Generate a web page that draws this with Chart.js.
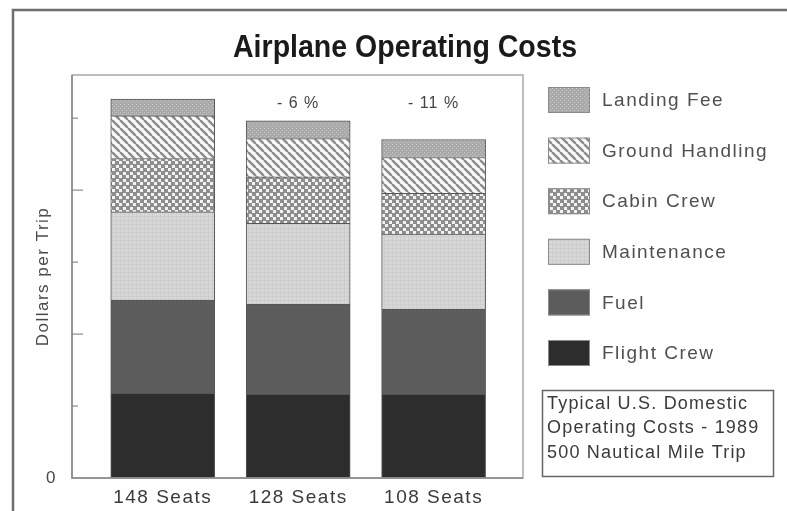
<!DOCTYPE html>
<html>
<head>
<meta charset="utf-8">
<script src="https://cdn.jsdelivr.net/npm/chart.js@4/dist/chart.umd.min.js"></script>
<style>
    html, body { margin: 0; padding: 0; background: #fefefe; }
    #costChart { display: block; }
</style>
</head>
<body>
<canvas id="costChart" width="787" height="511"></canvas>
<script>
// Airplane operating costs, dollars per trip
const seatLabels = ['148 Seats', '128 Seats', '108 Seats'];
const flightCrew = [1176, 1163, 1163];
const fuel = [1296, 1254, 1180];
const maintenance = [1227, 1121, 1046];
const cabinCrew = [741, 647, 565];
const groundHandling = [592, 533, 500];
const landingFee = [232, 245, 250];
const changeLabels = ['', '- 6 %', '- 11 %'];
const yTickValues = [1000, 2000, 3000, 4000, 5000];
const noteLines = ['Typical U.S. Domestic', 'Operating Costs - 1989', '500 Nautical Mile Trip'];

const FONT = '"Liberation Sans", Arial, Helvetica, sans-serif';

// Small tiles used as fills, to look like the old print textures
function makePattern(size, paint) {
    const c = document.createElement('canvas');
    c.width = size;
    c.height = size;
    paint(c.getContext('2d'), size);
    return document.getElementById('costChart').getContext('2d').createPattern(c, 'repeat');
}

const landingFill = makePattern(4, (g, s) => {
    g.fillStyle = '#aaaaaa';
    g.fillRect(0, 0, s, s);
    g.fillStyle = '#c6c6c6';
    g.fillRect(0, 0, 1, 1);
    g.fillRect(2, 2, 1, 1);
});

const groundFill = makePattern(8, (g, s) => {
    g.fillStyle = '#fafafa';
    g.fillRect(0, 0, s, s);
    g.strokeStyle = '#8c8c8c';
    g.lineWidth = 2.4;
    [-s, 0, s].forEach(k => {
        g.beginPath();
        g.moveTo(k, 0);
        g.lineTo(k + s, s);
        g.stroke();
    });
});

const cabinFill = makePattern(7, (g, s) => {
    g.fillStyle = '#8e8e8e';
    g.fillRect(0, 0, s, s);
    g.fillStyle = '#f2f2f2';
    g.fillRect(0, 0, 3, 3);
    g.fillRect(4, 4, 3, 3);
});

const maintenanceFill = makePattern(4, (g, s) => {
    g.fillStyle = '#d8d8d8';
    g.fillRect(0, 0, s, s);
    g.fillStyle = '#cdcdcd';
    g.fillRect(0, 0, s, 1);
    g.fillRect(0, 0, 1, s);
});

function series(values) {
    return values.map((v, i) => ({ x: i + 1, y: v }));
}

const datasets = [
    { label: 'Flight Crew', data: series(flightCrew), backgroundColor: '#2d2d2d' },
    { label: 'Fuel', data: series(fuel), backgroundColor: '#5c5c5c' },
    { label: 'Maintenance', data: series(maintenance), backgroundColor: maintenanceFill },
    { label: 'Cabin Crew', data: series(cabinCrew), backgroundColor: cabinFill },
    { label: 'Ground Handling', data: series(groundHandling), backgroundColor: groundFill },
    { label: 'Landing Fee', data: series(landingFee), backgroundColor: landingFill }
];
datasets.forEach(ds => {
    ds.borderColor = '#555555';
    ds.borderWidth = 1;
    ds.barThickness = 104;
});

// Everything around the bars: frame, title, box, ticks, legend, note
const decor = {
    id: 'decor',
    beforeDraw(chart) {
        const ctx = chart.ctx;
        ctx.save();
        ctx.fillStyle = '#fefefe';
        ctx.fillRect(0, 0, chart.width, chart.height);
        ctx.restore();
        ctx.letterSpacing = '1.5px';
    },
    afterDraw(chart) {
        const ctx = chart.ctx;
        const area = chart.chartArea;
        const yScale = chart.scales.y;

        ctx.save();

        // outer frame (top and left edges only are visible)
        ctx.strokeStyle = '#6e6e6e';
        ctx.lineWidth = 2.5;
        ctx.beginPath();
        ctx.moveTo(13, chart.height);
        ctx.lineTo(13, 10);
        ctx.lineTo(chart.width, 10);
        ctx.stroke();

        // plot box, axis sides a little darker
        ctx.strokeStyle = '#a8a8a8';
        ctx.lineWidth = 1.5;
        ctx.strokeRect(area.left, area.top, area.right - area.left, area.bottom - area.top);
        ctx.strokeStyle = '#888888';
        ctx.beginPath();
        ctx.moveTo(area.left, area.top);
        ctx.lineTo(area.left, area.bottom);
        ctx.lineTo(area.right, area.bottom);
        ctx.stroke();

        // inward tick marks on the value axis
        ctx.strokeStyle = '#8a8a8a';
        ctx.lineWidth = 1.2;
        yTickValues.forEach(v => {
            const py = yScale.getPixelForValue(v);
            const len = v % 2000 === 0 ? 11 : 6;
            ctx.beginPath();
            ctx.moveTo(area.left, py);
            ctx.lineTo(area.left + len, py);
            ctx.stroke();
        });

        // title, tall and condensed
        ctx.letterSpacing = '0px';
        ctx.font = 'bold 32px ' + FONT;
        ctx.fillStyle = '#1a1a1a';
        ctx.textAlign = 'center';
        ctx.textBaseline = 'alphabetic';
        const tw = ctx.measureText('Airplane Operating Costs').width;
        ctx.save();
        ctx.translate(405, 57);
        ctx.scale(344 / tw, 1);
        ctx.fillText('Airplane Operating Costs', 0, 0);
        ctx.restore();

        // change labels above the smaller airplanes
        ctx.letterSpacing = '1px';
        ctx.font = '16px ' + FONT;
        ctx.fillStyle = '#444444';
        ctx.textBaseline = 'middle';
        const bars = chart.getDatasetMeta(0).data;
        changeLabels.forEach((txt, i) => {
            if (txt) ctx.fillText(txt, bars[i].x, area.top + 29);
        });

        // legend, top item is the top of the stack
        ctx.letterSpacing = '1.5px';
        ctx.font = '19px ' + FONT;
        ctx.textAlign = 'left';
        const items = chart.data.datasets.slice().reverse();
        items.forEach((ds, j) => {
            const yc = area.top + 25 + j * 50.6;
            ctx.fillStyle = ds.backgroundColor;
            ctx.fillRect(548, yc - 13, 42, 26);
            ctx.strokeStyle = '#8a8a8a';
            ctx.lineWidth = 1;
            ctx.strokeRect(548.5, yc - 12.5, 41, 25);
            ctx.fillStyle = '#505050';
            ctx.fillText(ds.label, 602, yc + 1);
        });

        // note box
        ctx.strokeStyle = '#666666';
        ctx.lineWidth = 1.5;
        ctx.strokeRect(542.5, 390.5, 231, 86);
        ctx.letterSpacing = '1.2px';
        ctx.font = '18px ' + FONT;
        ctx.fillStyle = '#3a3a3a';
        noteLines.forEach((line, k) => {
            ctx.fillText(line, 547, 404 + k * 24.5);
        });

        ctx.restore();
    }
};

new Chart(document.getElementById('costChart'), {
    type: 'bar',
    data: { datasets: datasets },
    options: {
        responsive: false,
        animation: false,
        layout: { padding: { left: 20, top: 75, right: 264, bottom: 0 } },
        plugins: {
            legend: { display: false },
            title: { display: false },
            tooltip: { enabled: false }
        },
        scales: {
            x: {
                type: 'linear',
                stacked: true,
                offset: false,
                min: 0.33,
                max: 3.66,
                grid: { display: false, drawTicks: false },
                border: { display: false },
                afterBuildTicks: scale => {
                    scale.ticks = seatLabels.map((_, i) => ({ value: i + 1 }));
                },
                afterFit: scale => { scale.height = 33; },
                ticks: {
                    autoSkip: false,
                    maxRotation: 0,
                    padding: 8,
                    color: '#3a3a3a',
                    font: { family: FONT, size: 19 },
                    callback: value => seatLabels[value - 1]
                }
            },
            y: {
                stacked: true,
                min: 0,
                max: 5600,
                grid: { display: false, drawTicks: false },
                border: { display: false },
                afterBuildTicks: scale => {
                    scale.ticks = [{ value: 0 }];
                },
                afterFit: scale => { scale.width = 52; },
                ticks: {
                    padding: 15,
                    color: '#4a4a4a',
                    font: { family: FONT, size: 17 }
                },
                title: {
                    display: true,
                    text: 'Dollars per Trip',
                    color: '#4a4a4a',
                    font: { family: FONT, size: 17 },
                    padding: { top: 13, bottom: 0 }
                }
            }
        }
    },
    plugins: [decor]
});
</script>
</body>
</html>
